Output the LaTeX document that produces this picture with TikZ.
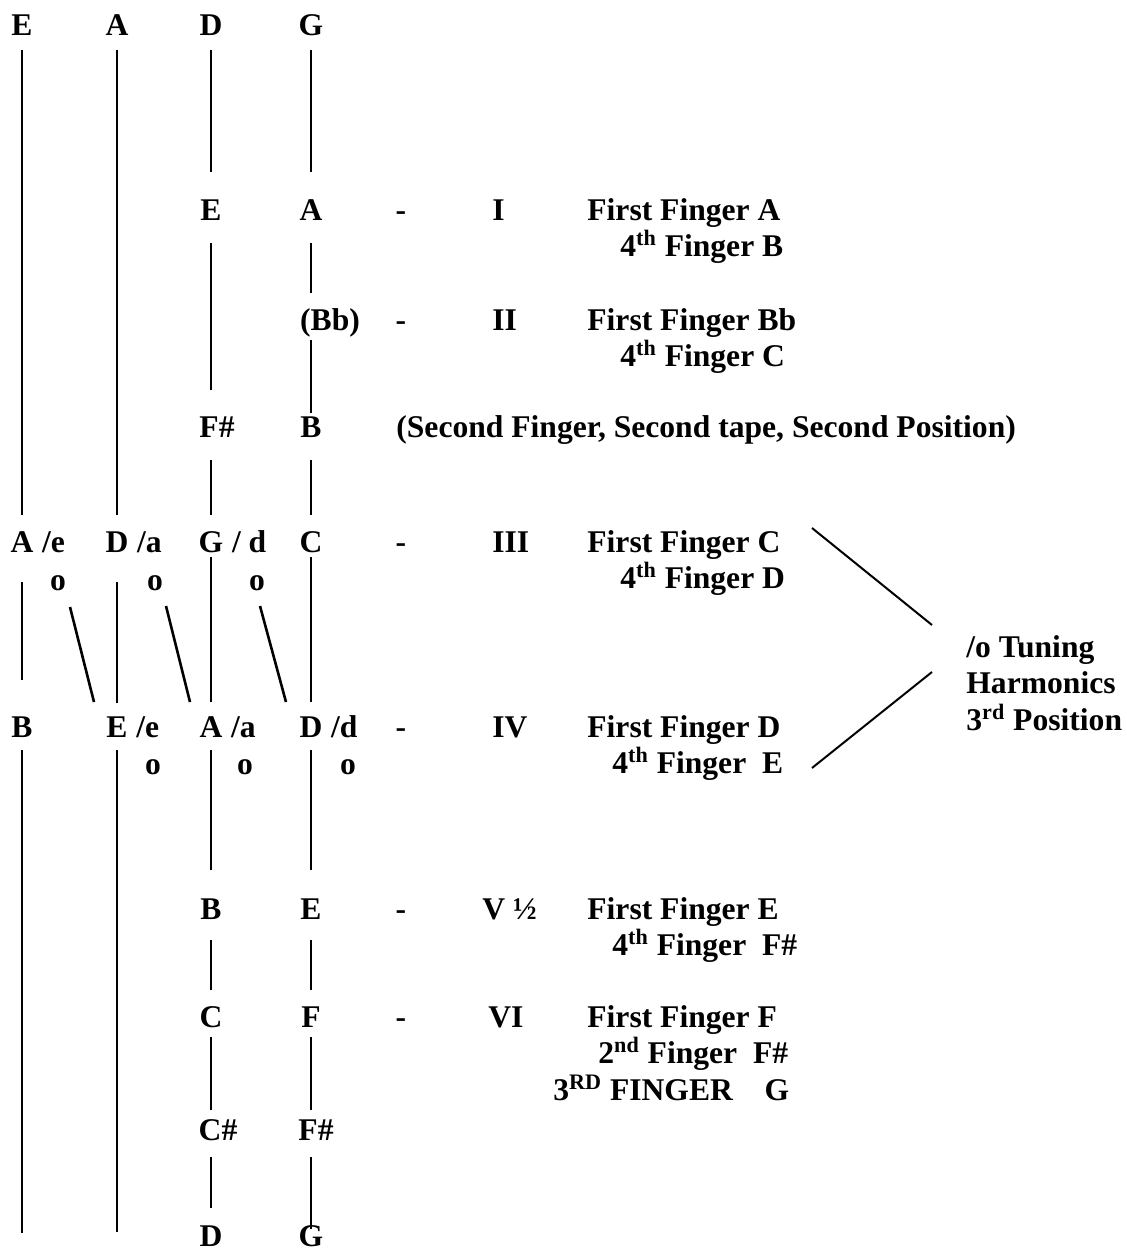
\documentclass[tikz,border=0pt]{standalone}
\usepackage{fontspec}
\setmainfont{Liberation Serif}
\usetikzlibrary{positioning}

\begin{document}
\begin{tikzpicture}[
    x=0.5pt, y=-0.5pt,
    node distance=4pt,
    note/.style={
        font=\fontsize{15.8}{19}\selectfont\bfseries,
        inner sep=0pt, text height=10.4pt, text depth=0pt
    },
    txt/.style={note, anchor=west},
    string/.style={line width=1.2pt},
    cut/.style 2 args={shorten <=#1pt, shorten >=#2pt},
    link/.style={line width=1.3pt},
    brace/.style={line width=1pt}
]
\useasboundingbox (0,0) rectangle (1126,1253);

% --- Open strings at the top
\node (eTop) [note] at (22,25)  {E};
\node (aTop) [note] at (117,25) {A};
\node (dTop) [note] at (211,25) {D};
\node (gTop) [note] at (311,25) {G};

% --- Notes along the D and G strings
\node (dE)  [note] at (211,210) {E};
\node (gA)  [note] at (311,210) {A};
\node (gBb) [note] at (330,320) {(Bb)};
\node (dFs) [note] at (217,427) {F\#};
\node (gB)  [note] at (311,427) {B};

% --- Row with the harmonics /e /a /d
\node (eA) [note] at (22,542)  {A};
\node (eAx) [note, right=of eA] {/e};
\node (aD) [note] at (117,542) {D};
\node (aDx) [note, right=of aD] {/a};
\node (dG) [note] at (211,542) {G};
\node (dGx) [note, right=of dG] {/ d};
\node (gC) [note] at (311,542) {C};

\node (o1) [note, text height=7pt] at (58,583)  {o};
\node (o2) [note, text height=7pt] at (155,583) {o};
\node (o3) [note, text height=7pt] at (257,583) {o};

\node (eB) [note] at (22,727)  {B};
\node (aE) [note] at (117,727) {E};
\node (aEx) [note, right=of aE] {/e};
\node (dA) [note] at (211,727) {A};
\node (dAx) [note, right=of dA] {/a};
\node (gD) [note] at (311,727) {D};
\node (gDx) [note, right=of gD] {/d};

\node (o4) [note, text height=7pt] at (153,767) {o};
\node (o5) [note, text height=7pt] at (245,767) {o};
\node (o6) [note, text height=7pt] at (348,767) {o};

% --- Lower notes
\node (dB)   [note] at (211,909)  {B};
\node (gE)   [note] at (311,909)  {E};
\node (dC)   [note] at (211,1017) {C};
\node (gF)   [note] at (311,1017) {F};
\node (dCs)  [note] at (218,1130) {C\#};
\node (gFs)  [note] at (316,1130) {F\#};
\node (dBot) [note] at (211,1236) {D};
\node (gBot) [note] at (311,1236) {G};

\coordinate (eEnd) at (22,1233);
\coordinate (aEnd) at (117,1232);

% --- Positions and fingers
\node (m1) [note] at (401,210)  {-};
\node (m2) [note] at (401,320)  {-};
\node (m3) [note] at (401,542)  {-};
\node (m4) [note] at (401,727)  {-};
\node (m5) [note] at (401,909)  {-};
\node (m6) [note] at (401,1017) {-};

\node (pos1) [txt] at (492,210)  {I};
\node (pos2) [txt] at (492,320)  {II};
\node (pos3) [txt] at (492,542)  {III};
\node (pos4) [txt] at (492,727)  {IV};
\node (pos5) [txt] at (482,909)  {V ½};
\node (pos6) [txt] at (488,1017) {VI};

\node (f1a) [txt] at (587,210)  {First Finger A};
\node (f1b) [txt] at (620,246)  {4\textsuperscript{th} Finger B};
\node (f2a) [txt] at (587,320)  {First Finger Bb};
\node (f2b) [txt] at (620,356)  {4\textsuperscript{th} Finger C};
\node (sec) [txt] at (396,427)  {(Second Finger, Second tape, Second Position)};
\node (f3a) [txt] at (587,542)  {First Finger C};
\node (f3b) [txt] at (620,578)  {4\textsuperscript{th} Finger D};
\node (f4a) [txt] at (587,727)  {First Finger D};
\node (f4b) [txt] at (612,763)  {4\textsuperscript{th} Finger\ \ E};
\node (f5a) [txt] at (587,909)  {First Finger E};
\node (f5b) [txt] at (612,945)  {4\textsuperscript{th} Finger\ \ F\#};
\node (f6a) [txt] at (587,1017) {First Finger F};
\node (f6b) [txt] at (598,1053) {2\textsuperscript{nd} Finger\ \ F\#};
\node (f6c) [txt] at (553,1090) {3\textsuperscript{RD} FINGER\ \ \ \ G};

\node (tune1) [txt] at (966,647) {/o Tuning};
\node (tune2) [txt] at (966,683) {Harmonics};
\node (tune3) [txt] at (966,720) {3\textsuperscript{rd} Position};

% --- E string
\draw [string, cut={7.3}{8.3}]  (eTop.south) -- (eA.north);
\draw [string, cut={14.8}{18.3}] (eA.south) -- (eB.north);
\draw [string, cut={6.3}{0}]    (eB.south) -- (eEnd);

% --- A string
\draw [string, cut={7.3}{8.3}]  (aTop.south) -- (aD.north);
\draw [string, cut={14.8}{6.8}] (aD.south) -- (aE.north);
\draw [string, cut={6.3}{0}]    (aE.south) -- (aEnd);

% --- D string
\draw [string, cut={7.3}{13.8}]  (dTop.south) -- (dE.north);
\draw [string, cut={11.3}{13.3}] (dE.south) -- (dE |- dFs.north);
\draw [string, cut={11.3}{8.3}]  (dG |- dFs.south) -- (dG.north);
\draw [string, cut={2.3}{7.3}]   (dG.south) -- (dA.north);
\draw [string, cut={6.3}{14.3}]  (dA.south) -- (dB.north);
\draw [string, cut={10.3}{8.3}]  (dB.south) -- (dC.north);
\draw [string, cut={4.8}{4.8}]   (dC.south) -- (dC |- dCs.north);
\draw [string, cut={8.3}{8.8}]   (dBot |- dCs.south) -- (dBot.north);

% --- G string
\draw [string, cut={7.3}{13.8}] (gTop.south) -- (gA.north);
\draw [string, cut={11.3}{8.3}] (gA.south) -- (gA |- gBb.north);
\draw [string, cut={4.8}{1.8}]  (gB |- gBb.south) -- (gB.north);
\draw [string, cut={11.3}{8.3}] (gB.south) -- (gC.north);
\draw [string, cut={2.3}{7.3}]  (gC.south) -- (gD.north);
\draw [string, cut={6.3}{14.3}] (gD.south) -- (gE.north);
\draw [string, cut={10.3}{8.3}] (gE.south) -- (gF.north);
\draw [string, cut={4.8}{4.8}]  (gF.south) -- (gF |- gFs.north);
\draw [string, cut={8.3}{-2}]   (gBot |- gFs.south) -- (gBot.north);

% --- harmonic links
\coordinate (h1a) at (70,607);  \coordinate (h1b) at (94,702);
\coordinate (h2a) at (166,606); \coordinate (h2b) at (190,702);
\coordinate (h3a) at (260,606); \coordinate (h3b) at (286,702);
\draw [link] (h1a) -- (h1b);
\draw [link] (h2a) -- (h2b);
\draw [link] (h3a) -- (h3b);

% --- bracket to the tuning note
\coordinate (bUp)  at (812,528);
\coordinate (bMid) at (932,625);
\coordinate (bMid2) at (932,672);
\coordinate (bLow) at (812,768);
\draw [brace] (bUp) -- (bMid);
\draw [brace] (bMid2) -- (bLow);

\end{tikzpicture}
\end{document}
